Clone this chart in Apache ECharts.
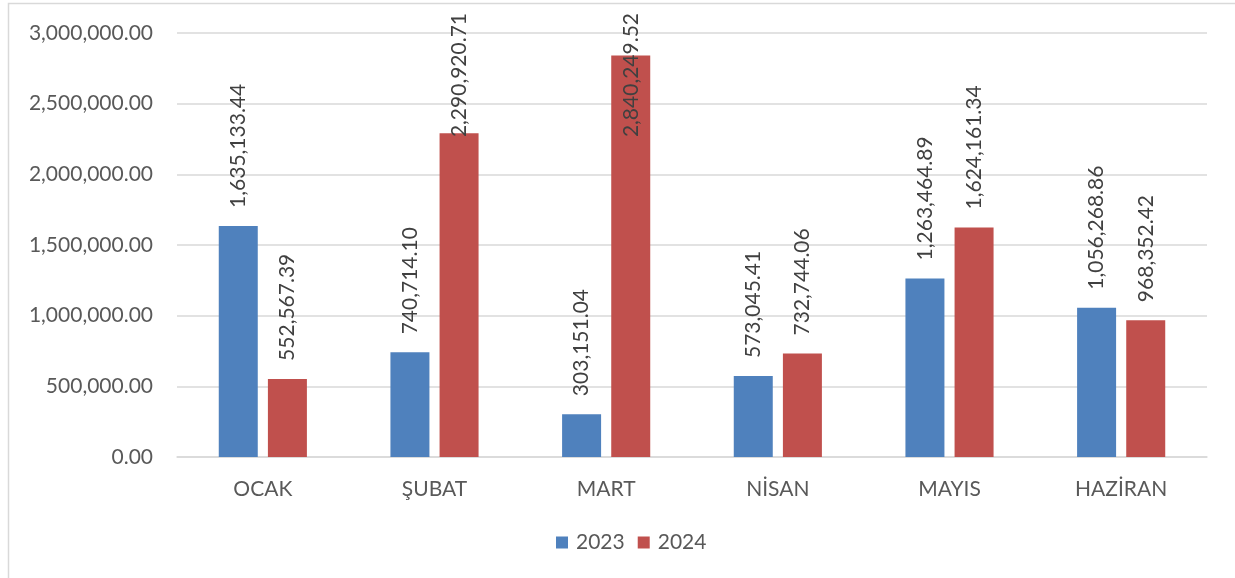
<!DOCTYPE html>
<html>
<head>
<meta charset="utf-8">
<script src="https://cdn.jsdelivr.net/npm/echarts@6/dist/echarts.min.js"></script>
<style>
html,body{margin:0;padding:0;background:#fff;}
#c{width:1235px;height:578px;}
</style>
</head>
<body>
<div id="c"></div>
<script>
const categories = ['OCAK', 'ŞUBAT', 'MART', 'NİSAN', 'MAYIS', 'HAZİRAN'];
const seriesNames = ['2023', '2024'];
const values2023 = [1635133.44, 740714.10, 303151.04, 573045.41, 1263464.89, 1056268.86];
const values2024 = [552567.39, 2290920.71, 2840249.52, 732744.06, 1624161.34, 968352.42];
const colors = ['#4F81BD', '#C0504D'];

const fmt = v => v.toLocaleString('en-US', {minimumFractionDigits: 2, maximumFractionDigits: 2});
const FONT = 'Lato';
const chart = echarts.init(document.getElementById('c'));

function mkSeries(name, data, color) {
  return {
    name: name,
    type: 'bar',
    data: data,
    barWidth: 39,
    barGap: '26%',
    itemStyle: {color: color},
    label: {
      show: true,
      position: 'top',
      rotate: 90,
      align: 'left',
      verticalAlign: 'middle',
      distance: 18,
      color: '#404040',
      fontFamily: FONT,
      fontSize: 21,
      formatter: p => fmt(p.value)
    },
    labelLayout: function (params) {
      const r = params.labelRect;
      if (r.y < 13) {
        return {y: 13 + r.height};
      }
      return {};
    }
  };
}

chart.setOption({
  animation: false,
  graphic: [{
    type: 'rect',
    shape: {x: 8.5, y: 3.5, width: 1240, height: 600},
    style: {fill: 'none', stroke: '#d9d9d9', lineWidth: 1.5},
    silent: true
  }],
  grid: {left: 177, right: 28, top: 33, bottom: 121},
  legend: {
    data: seriesNames,
    top: 527,
    left: 551,
    itemWidth: 12,
    itemHeight: 12,
    itemGap: 13,
    icon: 'rect',
    textStyle: {color: '#595959', fontFamily: FONT, fontSize: 21, padding: [0, 0, 0, 3]}
  },
  xAxis: {
    type: 'category',
    data: categories,
    axisTick: {show: false},
    axisLine: {lineStyle: {color: '#d9d9d9', width: 1.5}},
    axisLabel: {color: '#595959', fontFamily: FONT, fontSize: 21, margin: 22}
  },
  yAxis: {
    type: 'value',
    min: 0,
    max: 3000000,
    interval: 500000,
    axisLine: {show: false},
    axisTick: {show: false},
    splitLine: {lineStyle: {color: '#d9d9d9', width: 1.5}},
    axisLabel: {color: '#595959', fontFamily: FONT, fontSize: 21, margin: 24, formatter: v => fmt(v)}
  },
  series: [
    mkSeries(seriesNames[0], values2023, colors[0]),
    mkSeries(seriesNames[1], values2024, colors[1])
  ]
});
</script>
</body>
</html>
